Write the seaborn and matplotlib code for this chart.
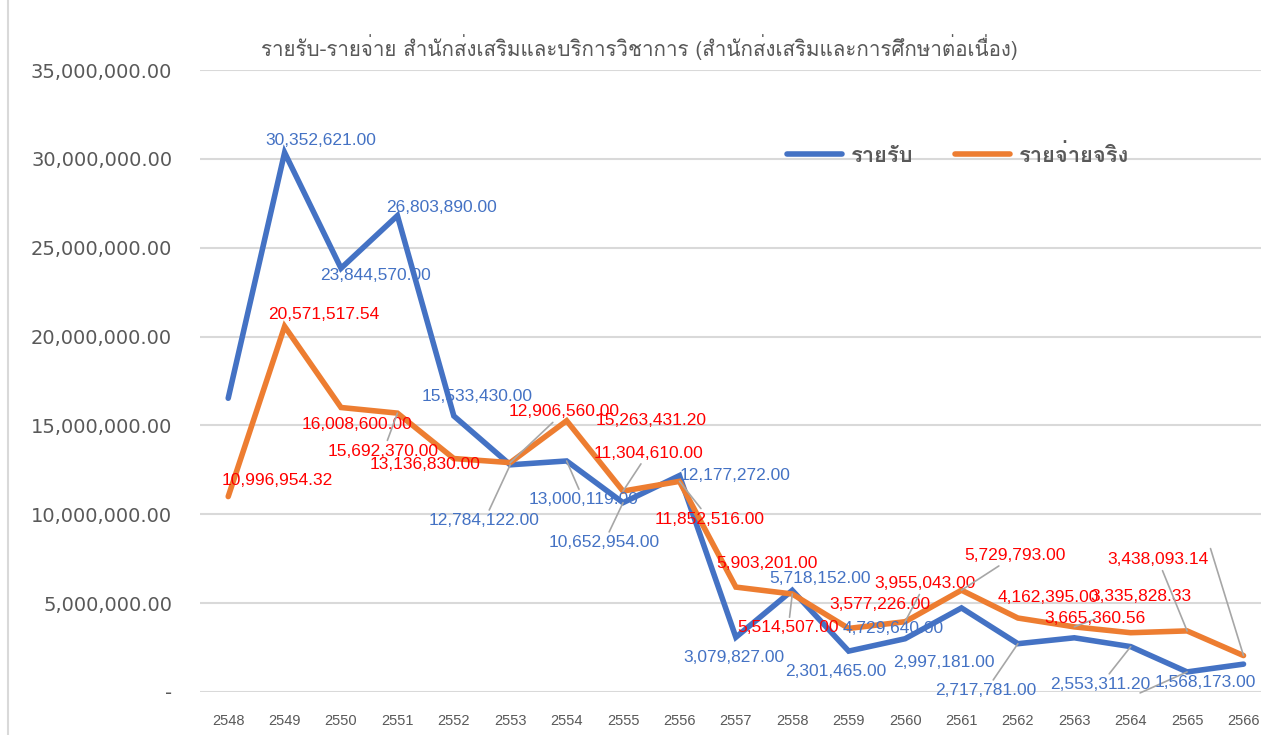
import numpy as np
import pandas as pd
import matplotlib
matplotlib.use("Agg")
import matplotlib.pyplot as plt
import seaborn as sns
from matplotlib import font_manager
from matplotlib.ft2font import FT2Font
from matplotlib.ticker import FuncFormatter

# data (Buddhist-era years)
years = [2548, 2549, 2550, 2551, 2552, 2553, 2554, 2555, 2556, 2557,
         2558, 2559, 2560, 2561, 2562, 2563, 2564, 2565, 2566]
income = [16530000, 30352621.00, 23844570.00, 26803890.00, 15533430.00,
          12784122.00, 13000119.00, 10652954.00, 12177272.00, 3079827.00,
          5718152.00, 2301465.00, 2997181.00, 4729640.00, 2717781.00,
          3050000, 2553311.20, 1130000, 1568173.00]
expense = [10996954.32, 20571517.54, 16008600.00, 15692370.00, 13136830.00,
           12906560.00, 15263431.20, 11304610.00, 11852516.00, 5903201.00,
           5514507.00, 3577226.00, 3955043.00, 5729793.00, 4162395.00,
           3665360.56, 3335828.33, 3438093.14, 2050000]
# which points carry a visible value label in the original
income_shown = [False] + [True] * 14 + [False, True, False, True]
expense_shown = [True] * 18 + [False]

title = "รายรับ-รายจ่าย สำนักส่งเสริมและบริการวิชาการ (สำนักส่งเสริมและการศึกษาต่อเนื่อง)"
series_names = ["รายรับ", "รายจ่ายจริง"]

# label offsets in pixels (dx, dy; dy positive = up) and leader-line flags
income_off = [(0, 0), (36, 12), (34, -7), (44, 8), (23, 19), (-26, -56),
              (17, -39), (-19, -40), (56, 0), (-2, -20), (28, 12), (-13, -20),
              (39, -24), (-68, -21), (-32, -47), (0, 0), (-30, -38), (-47, -21),
              (-38, -18)]
income_lead = [False, False, False, False, False, True, True, True, False, False,
               False, False, False, False, True, False, True, True, False]
expense_off = [(49, 16), (39, 12), (16, -17), (-14, -38), (-29, -6), (54, 51),
               (84, 0), (25, 38), (30, -38), (31, 24), (-4, -34), (31, 24),
               (20, 38), (54, 35), (30, 21), (21, 8), (10, 36), (-29, 71),
               (-33, 107)]
expense_lead = [False, False, False, True, False, True, False, True, True, False,
                True, False, True, True, False, True, False, True, True]


def thai_font():
    for f in font_manager.fontManager.ttflist:
        try:
            if ord("ร") in FT2Font(f.fname).get_charmap():
                return f.name
        except Exception:
            pass
    return "DejaVu Sans"


sns.set_theme(style="white")
thai = thai_font()
plt.rcParams["font.family"] = [thai, "DejaVu Sans"]

df = pd.DataFrame({"year": years, "income": income, "expense": expense})
long_df = df.melt(id_vars="year", var_name="series", value_name="value")
long_df["series"] = long_df["series"].map({"income": series_names[0], "expense": series_names[1]})
long_df["pos"] = long_df["year"] - years[0]

blue = "#4472C4"
orange = "#ED7D31"
grey = "#595959"

fig = plt.figure(figsize=(12.61, 7.35), dpi=100)
ax = fig.add_axes([200 / 1261, 43 / 735, 1061 / 1261, 622 / 735])

sns.lineplot(data=long_df, x="pos", y="value", hue="series",
             palette=[blue, orange], linewidth=4, ax=ax,
             solid_capstyle="round", solid_joinstyle="miter")

ax.set_xlim(-0.5, 18.31)
ax.set_ylim(0, 35000000)
ax.set_yticks(np.arange(0, 35000001, 5000000))
ax.yaxis.set_major_formatter(FuncFormatter(lambda v, p: "-" if v == 0 else f"{v:,.2f}"))
ax.set_xticks(range(len(years)))
ax.set_xticklabels([str(y) for y in years])
for lab in ax.get_yticklabels():
    lab.set_fontfamily("DejaVu Sans")
    lab.set_fontsize(14)
    lab.set_color(grey)
for lab in ax.get_xticklabels():
    lab.set_fontfamily("Liberation Sans")
    lab.set_fontsize(10.5)
    lab.set_color(grey)
ax.tick_params(axis="y", length=0, pad=20)
ax.tick_params(axis="x", length=0, pad=16)
ax.grid(axis="y", color="#D9D9D9", linewidth=1.5)
ax.set_axisbelow(True)
for s in ax.spines.values():
    s.set_visible(False)
ax.set_xlabel("")
ax.set_ylabel("")


def add_labels(values, shown, offsets, leads, color):
    for i, v in enumerate(values):
        dx, dy = offsets[i]
        props = None
        if leads[i]:
            props = dict(arrowstyle="-", color="#A6A6A6", lw=1.2, shrinkA=0, shrinkB=0)
        if not shown[i] and props is None:
            continue
        txt = f"{v:,.2f}" if shown[i] else ""
        ax.annotate(txt, xy=(i, v), xytext=(dx, dy), textcoords="offset pixels",
                    ha="center", va="center", color=color, fontsize=12.5,
                    fontfamily="Liberation Sans", arrowprops=props, zorder=5)


add_labels(income, income_shown, income_off, income_lead, blue)
add_labels(expense, expense_shown, expense_off, expense_lead, "#FF0000")

leg = ax.legend(loc="center left", bbox_to_anchor=(587 / 1061, (692 - 155) / 622),
                ncol=2, frameon=False, borderpad=0, borderaxespad=0,
                handlelength=2.5, handletextpad=0.4, columnspacing=1.9,
                prop={"weight": "bold", "size": 15.8})
for t in leg.get_texts():
    t.set_color(grey)
for h in leg.get_lines():
    h.set_linewidth(4)

fig.text(639 / 1261, 1 - 47 / 735, title, ha="center", va="center",
         fontsize=14.8, color=grey)

# chart area border on the left
fig.add_artist(plt.Line2D([8 / 1261, 8 / 1261], [0, 1], color="#D9D9D9", lw=1.5))

fig.savefig("out.png", dpi=100)
